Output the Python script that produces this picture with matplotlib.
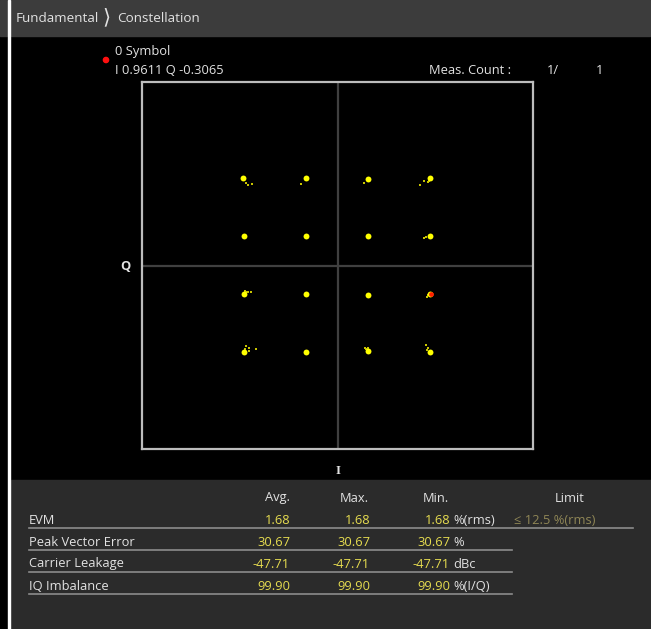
import matplotlib
matplotlib.use("Agg")
import matplotlib.pyplot as plt
from matplotlib.patches import Rectangle, Circle

plt.rcParams['font.family'] = ['Open Sans', 'DejaVu Sans']

W, H, DPI = 651, 629, 100

# constellation cluster centres (I, Q)
core_i = [-0.962, -0.322, 0.309, 0.943,
          -0.957, -0.322, 0.315, 0.943,
          -0.957, -0.322, 0.309, 0.943,
          -0.957, -0.322, 0.309, 0.949]
core_q = [0.950, 0.950, 0.943, 0.957,
          0.322, 0.322, 0.318, 0.325,
          -0.311, -0.311, -0.318, -0.311,
          -0.943, -0.943, -0.935, -0.943]

# scattered symbols around the clusters
stray_i = [-0.952, -0.934, -0.911, -0.870, -0.373, 0.271,
           0.933, 0.923, 0.889, 0.848, 0.902, 0.889,
           -0.937, -0.916, -0.888, -0.944, -0.302,
           -0.937, -0.903, -0.903, -0.834, -0.944,
           0.923, 0.912, 0.281, 0.316, 0.296, 0.908, 0.921, 0.915]
stray_q = [0.928, 0.903, 0.877, 0.892, 0.888, 0.899,
           0.924, 0.913, 0.921, 0.877, 0.311, 0.303,
           -0.286, -0.289, -0.289, -0.275, -0.325,
           -0.878, -0.899, -0.929, -0.907, -0.914,
           -0.325, -0.338, -0.899, -0.899, -0.913, -0.870, -0.899, -0.921]

marker_i, marker_q = 0.9611, -0.3065
symbol_no = 0
meas_count, meas_total = 1, 1

col_heads = ["Avg.", "Max.", "Min."]
row_names = ["EVM", "Peak Vector Error", "Carrier Leakage", "IQ Imbalance"]
row_avg = ["1.68", "30.67", "-47.71", "99.90"]
row_max = ["1.68", "30.67", "-47.71", "99.90"]
row_min = ["1.68", "30.67", "-47.71", "99.90"]
row_unit = ["%(rms)", "%", "dBc", "%(I/Q)"]
evm_limit = "\u2264 12.5 %(rms)"

fig = plt.figure(figsize=(W / DPI, H / DPI), dpi=DPI)
fig.patch.set_facecolor("black")

# background / layout axes in pixel coordinates
bg = fig.add_axes([0, 0, 1, 1])
bg.set_xlim(0, W); bg.set_ylim(H, 0); bg.axis("off")
bg.add_patch(Rectangle((0, 0), 7, 36, color="#3c3c3c"))
bg.add_patch(Rectangle((11, 0), 639, 36, color="#3c3c3c"))
bg.add_patch(Rectangle((11, 480), 640, 149, color="#2b2b2b"))
bg.add_patch(Rectangle((8.3, 0), 2, H, color="white"))

txt = "#e2e2e2"
fs = 9.3
bg.text(16, 18.5, "Fundamental", color=txt, fontsize=9.7, va="center")
bg.text(106.5, 17.5, "\u27e9", color=txt, fontsize=15, va="center", ha="center",
        family=["DejaVu Sans"])
bg.text(117, 18.5, "Constellation", color=txt, fontsize=9.7, va="center")

bg.add_patch(Circle((106, 60), 2.6, color="#ff1010"))
bg.text(115, 52, f"{symbol_no} Symbol", color=txt, fontsize=fs, va="center")
bg.text(115, 71, f"I {marker_i:.4f} Q {marker_q:.4f}", color=txt, fontsize=fs, va="center")
bg.text(429, 71, "Meas. Count :", color=txt, fontsize=fs, va="center")
bg.text(559, 71, f"{meas_count}/", color=txt, fontsize=fs, va="center", ha="right")
bg.text(603, 71, f"{meas_total}", color=txt, fontsize=fs, va="center", ha="right")
bg.text(125, 267, "Q", color=txt, fontsize=fs, va="center", ha="center", fontweight="bold")
bg.text(338, 471, "I", color=txt, fontsize=fs, va="center", ha="center",
        fontweight="bold", family=["Liberation Serif", "DejaVu Serif"])

# result table
yellow = "#e6dc50"
col_x = [290, 370, 450]
bg.text(290, 498, col_heads[0], color=txt, fontsize=fs, va="center", ha="right")
bg.text(369, 498, col_heads[1], color=txt, fontsize=fs, va="center", ha="right")
bg.text(423, 498, col_heads[2], color=txt, fontsize=fs, va="center", ha="left")
bg.text(570, 498, "Limit", color=txt, fontsize=fs, va="center", ha="center")
row_y = [520, 542, 564, 586]
for k in range(len(row_names)):
    y = row_y[k]
    bg.text(29, y, row_names[k], color=txt, fontsize=fs, va="center")
    bg.text(col_x[0], y, row_avg[k], color=yellow, fontsize=fs, va="center", ha="right")
    bg.text(col_x[1], y, row_max[k], color=yellow, fontsize=fs, va="center", ha="right")
    bg.text(col_x[2], y, row_min[k], color=yellow, fontsize=fs, va="center", ha="right")
    bg.text(col_x[2] + 3, y, row_unit[k], color=txt, fontsize=fs, va="center", ha="left")
    x_end = 633 if k == 0 else 512
    bg.plot([29, x_end], [y + 7.5, y + 7.5], color="#8c8c8c", lw=1.2)
bg.text(514, row_y[0], evm_limit, color="#8f8656", fontsize=fs, va="center", ha="left")

# constellation plot
ax = fig.add_axes([142 / W, 1 - 449 / H, 391 / W, 367 / H])
ax.set_facecolor("black")
ax.set_xlim(-2, 2); ax.set_ylim(-2, 2)
ax.set_xticks([]); ax.set_yticks([])
for s in ax.spines.values():
    s.set_color("#bdbdbd"); s.set_linewidth(1.6)
ax.axhline(0, color="#404040", lw=1.6, zorder=1)
ax.axvline(0, color="#404040", lw=1.6, zorder=1)
ax.scatter(stray_i, stray_q, s=2.2, marker="s", color="#c8c400", linewidths=0, zorder=2)
ax.scatter(core_i, core_q, s=18, marker="o", color="#ffff00", linewidths=0, zorder=3)
ax.scatter([marker_i], [marker_q], s=12, marker="o", color="#ff2000", linewidths=0, zorder=4)

fig.savefig("out.png", dpi=DPI, facecolor=fig.get_facecolor())
